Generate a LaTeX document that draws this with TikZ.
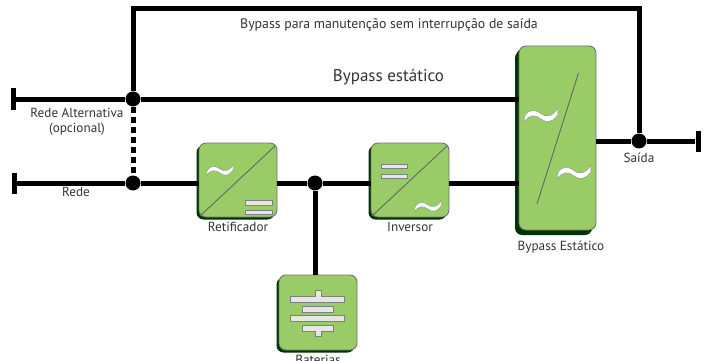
\documentclass[tikz,border=0pt]{standalone}
\usepackage{fontspec}
\setmainfont{PT Sans}
\usetikzlibrary{shadows}
\definecolor{faceverde}{HTML}{99CC66}
\definecolor{sombraverde}{HTML}{003300}
\definecolor{barracinza}{HTML}{E6E6E6}
\tikzset{
  linha/.style={line width=5pt,black},
  tracejada/.style={line width=5pt,black,dash pattern=on 6pt off 4pt},
  no/.style={circle,fill=black,inner sep=0pt,minimum size=15pt},
  terminal/.style={fill=black,inner sep=0pt,minimum width=5pt,minimum height=21pt},
  bloco/.style={draw=black!55,line width=0.9pt,fill=faceverde,rounded corners=7pt,inner sep=0pt,
    general shadow={shadow xshift=-2.5pt,shadow yshift=-2.5pt,fill=sombraverde}},
  diagonal/.style={draw=black!60,line width=0.9pt},
  barra/.style={draw=black!50,line width=0.8pt,fill=barracinza},
  rotulo/.style={font=\fontsize{13.2}{14.5}\selectfont,text=black!80,inner sep=0pt,align=center},
  onda/.pic={\draw[draw=black!45,line width=0.4pt,fill=white]
    (-1,0.1) .. controls (-0.75,-0.4) and (-0.35,-0.35) .. (0,-0.08)
    .. controls (0.3,0.15) and (0.7,0.12) .. (1,-0.4) -- (1,0)
    .. controls (0.7,0.48) and (0.3,0.48) .. (0,0.24)
    .. controls (-0.3,0) and (-0.7,-0.08) .. (-1,0.42) -- cycle;},
}
\begin{document}
\begin{tikzpicture}[x=1pt,y=-1pt]
  \useasboundingbox (0,0) rectangle (707,361);
  % blocos
  \node[bloco,minimum width=78pt,minimum height=74pt] (retificador) at (238,180) {};
  \node[bloco,minimum width=78pt,minimum height=74pt] (inversor) at (410,180) {};
  \node[bloco,minimum width=78pt,minimum height=75pt] (baterias) at (318,312.5) {};
  \node[bloco,minimum width=77pt,minimum height=184pt,general shadow={shadow xshift=-4pt,shadow yshift=-5pt,fill=sombraverde}] (estatico) at (557.5,138) {};
  % nos e terminais
  \node[terminal] (termAlt) at (13,99) {};
  \node[terminal] (termRede) at (14,183) {};
  \node[terminal] (termSaida) at (698,141) {};
  \node[no] (noAlt) at (133,99) {};
  \node[no] (noRede) at (133,183) {};
  \node[no] (noBat) at (315,183) {};
  \node[no] (noSaida) at (639,141) {};
  \coordinate (cantoEsq) at (133,9);
  \coordinate (cantoDir) at (639,9);
  % ligacoes
  \draw[linha] (noAlt) -- (cantoEsq) -- (cantoDir) -- (noSaida);
  \draw[linha] (termAlt) -- (noAlt) -- (noAlt -| estatico.west);
  \draw[tracejada] (noAlt) -- (noRede);
  \draw[linha] (termRede) -- (noRede) -- (noRede -| retificador.west);
  \draw[linha] (noRede -| retificador.east) -- (noBat) -- (noRede -| inversor.west);
  \draw[linha] (noRede -| inversor.east) -- (noRede -| estatico.west);
  \draw[linha] (noBat) -- (noBat |- baterias.north);
  \draw[linha] (noSaida -| estatico.east) -- (noSaida) -- (termSaida);
  % simbolos
  \draw[diagonal] (200,216) -- (275,146);
  \pic[scale=13] at (220,170) {onda};
  \draw[barra] (245,200) rectangle (272,205);
  \draw[barra] (245,210) rectangle (272,214);
  \draw[diagonal] (372,216) -- (447,146);
  \pic[scale=13] at (428,206) {onda};
  \draw[barra] (381,164) rectangle (407,168);
  \draw[barra] (381,174) rectangle (407,178);
  \draw[diagonal] (578.5,73) -- (537,204);
  \pic[scale=16.5] at (541,115) {onda};
  \pic[scale=16.5] at (574,172) {onda};
  \draw[barra] (315,296) -- (315,290) -- (321,290) -- (321,296) -- (344,296) -- (344,302) -- (290,302) -- (290,296) -- cycle;
  \draw[barra] (302,306) rectangle (333,312);
  \draw[barra] (290,315) rectangle (344,321);
  \draw[barra] (302,325) -- (333,325) -- (333,331) -- (321,331) -- (321,336) -- (315,336) -- (315,331) -- (302,331) -- cycle;
  % textos
  \node[rotulo,font=\fontsize{13.8}{15}\selectfont] (txtManut) at (389,25) {Bypass para manutenção sem interrupção de saída};
  \node[rotulo,font=\fontsize{17}{19}\selectfont] (txtEstatico) at (388.5,77) {Bypass estático};
  \node[rotulo] (txtAlt) at (77,122) {Rede Alternativa\\(opcional)};
  \node[rotulo] (txtRede) at (76,192) {Rede};
  \node[rotulo] (txtRetif) at (238,227) {Retificador};
  \node[rotulo] (txtInv) at (410,227) {Inversor};
  \node[rotulo] (txtBat) at (318,360) {Baterias};
  \node[rotulo] (txtByp) at (561,247) {Bypass Estático};
  \node[rotulo] (txtSaida) at (639,158) {Saída};
\end{tikzpicture}
\end{document}
